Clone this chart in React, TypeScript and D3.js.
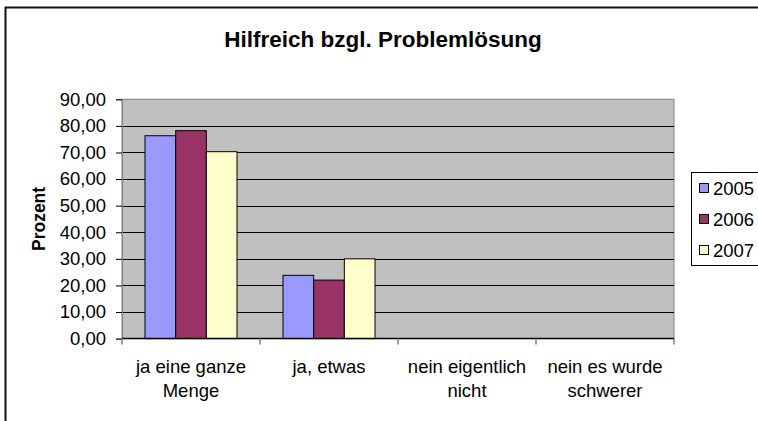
import { useEffect, useRef } from 'react';
import * as d3 from 'd3';

const title = 'Hilfreich bzgl. Problemlösung';
const yTitle = 'Prozent';
const categories = ['ja eine ganze Menge', 'ja, etwas', 'nein eigentlich nicht', 'nein es wurde schwerer'];
const categoryLines = [
  ['ja eine ganze', 'Menge'],
  ['ja, etwas'],
  ['nein eigentlich', 'nicht'],
  ['nein es wurde', 'schwerer'],
];
const seriesNames = ['2005', '2006', '2007'];
const values2005 = [76.3, 23.8, 0, 0];
const values2006 = [78.2, 22.0, 0, 0];
const values2007 = [70.3, 30.0, 0, 0];
const seriesColors = ['#9999FF', '#993366', '#FFFFCC'];
const yTicks = [0, 10, 20, 30, 40, 50, 60, 70, 80, 90];

const W = 758;
const H = 421;
const FONT = 'Arial, "Liberation Sans", sans-serif';
const LABEL_SIZE = '18.5px';

const App = () => {
  const svgRef = useRef<SVGSVGElement | null>(null);

  useEffect(() => {
    const svg = d3.select(svgRef.current);
    svg.selectAll('*').remove();

    const plot = { left: 122, right: 674, top: 99.3, bottom: 338.6 };
    const series = [values2005, values2006, values2007];

    const x = d3
      .scaleBand<string>()
      .domain(categories)
      .range([plot.left, plot.right])
      .paddingInner(1 / 3)
      .paddingOuter(1 / 6);
    const xs = d3.scaleBand<string>().domain(seriesNames).range([0, x.bandwidth()]).padding(0);
    const y = d3.scaleLinear().domain([0, 90]).range([plot.bottom, plot.top]);

    const de = d3.formatLocale({ decimal: ',', thousands: '.', grouping: [3], currency: ['', '€'] });
    const fmt = de.format('.2f');

    // outer chart frame
    svg
      .append('rect')
      .attr('x', 5.5)
      .attr('y', 7.5)
      .attr('width', 800)
      .attr('height', 460)
      .attr('fill', 'white')
      .attr('stroke', '#111')
      .attr('stroke-width', 2);

    svg
      .append('text')
      .attr('x', 383)
      .attr('y', 47)
      .attr('text-anchor', 'middle')
      .style('font-family', FONT)
      .style('font-weight', 'bold')
      .style('font-size', '22.5px')
      .text(title);

    // plot area
    svg
      .append('rect')
      .attr('x', plot.left)
      .attr('y', plot.top)
      .attr('width', plot.right - plot.left)
      .attr('height', plot.bottom - plot.top)
      .attr('fill', '#C0C0C0')
      .attr('stroke', '#808080')
      .attr('stroke-width', 1);

    svg
      .append('g')
      .selectAll('line')
      .data(yTicks.filter((d) => d > 0 && d < 90))
      .enter()
      .append('line')
      .attr('x1', plot.left)
      .attr('x2', plot.right)
      .attr('y1', (d) => Math.round(y(d)) + 0.5)
      .attr('y2', (d) => Math.round(y(d)) + 0.5)
      .attr('stroke', '#000')
      .attr('stroke-width', 1);

    // bars
    series.forEach((vals, si) => {
      svg
        .append('g')
        .selectAll('rect')
        .data(categories.map((c, i) => ({ c, v: vals[i] })).filter((d) => d.v > 0))
        .enter()
        .append('rect')
        .attr('x', (d) => (x(d.c) as number) + (xs(seriesNames[si]) as number))
        .attr('width', xs.bandwidth())
        .attr('y', (d) => y(d.v))
        .attr('height', (d) => y(0) - y(d.v))
        .attr('fill', seriesColors[si])
        .attr('stroke', '#000')
        .attr('stroke-width', 1);
    });

    // y axis
    const yAxis = d3
      .axisLeft(y)
      .tickValues(yTicks)
      .tickSize(6)
      .tickPadding(10)
      .tickFormat((d) => fmt(d as number));
    const gy = svg.append('g').attr('transform', `translate(${plot.left},0)`).call(yAxis);
    gy.select('.domain').attr('stroke', '#808080');
    gy.selectAll('.tick line').attr('stroke', '#000');
    gy.selectAll('.tick text')
      .style('font-family', FONT)
      .style('font-size', LABEL_SIZE)
      .attr('fill', '#000');

    // x axis baseline + category ticks
    svg
      .append('line')
      .attr('x1', plot.left)
      .attr('x2', plot.right)
      .attr('y1', y(0))
      .attr('y2', y(0))
      .attr('stroke', '#000')
      .attr('stroke-width', 1.5);

    const bounds = categories.map((c) => (x(c) as number) - (x.step() - x.bandwidth()) / 2);
    bounds.push(plot.right);
    svg
      .append('g')
      .selectAll('line')
      .data(bounds)
      .enter()
      .append('line')
      .attr('x1', (d) => d)
      .attr('x2', (d) => d)
      .attr('y1', y(0))
      .attr('y2', y(0) + 6)
      .attr('stroke', '#808080')
      .attr('stroke-width', 1.5);

    const xl = svg
      .append('g')
      .selectAll('text')
      .data(categories)
      .enter()
      .append('text')
      .attr('x', (d) => (x(d) as number) + x.bandwidth() / 2)
      .attr('y', 373)
      .attr('text-anchor', 'middle')
      .style('font-family', FONT)
      .style('font-size', LABEL_SIZE);
    xl.selectAll('tspan')
      .data((d, i) => categoryLines[i])
      .enter()
      .append('tspan')
      .attr('x', function () {
        return (this as any).parentNode.getAttribute('x');
      })
      .attr('dy', (d, i) => (i === 0 ? 0 : 24))
      .text((d) => d);

    svg
      .append('text')
      .attr('transform', `translate(44.5,${(plot.top + plot.bottom) / 2}) rotate(-90)`)
      .attr('text-anchor', 'middle')
      .style('font-family', FONT)
      .style('font-weight', 'bold')
      .style('font-size', '17.5px')
      .text(yTitle);

    // legend
    const lg = svg.append('g');
    lg.append('rect')
      .attr('x', 691.5)
      .attr('y', 172.5)
      .attr('width', 100)
      .attr('height', 93)
      .attr('fill', 'white')
      .attr('stroke', '#000');
    const ly = d3.scalePoint<string>().domain(seriesNames).range([188, 250]);
    seriesNames.forEach((s, i) => {
      lg.append('rect')
        .attr('x', 699.5)
        .attr('y', (ly(s) as number) - 4.5)
        .attr('width', 9)
        .attr('height', 9)
        .attr('fill', seriesColors[i])
        .attr('stroke', '#000');
      lg.append('text')
        .attr('x', 713)
        .attr('y', (ly(s) as number) + 6.5)
        .style('font-family', FONT)
        .style('font-size', LABEL_SIZE)
        .text(s);
    });
  }, []);

  return (
    <svg
      ref={svgRef}
      width={W}
      height={H}
      style={{ position: 'absolute', left: 0, top: 0, display: 'block', background: 'white' }}
    ></svg>
  );
};

export default App;
